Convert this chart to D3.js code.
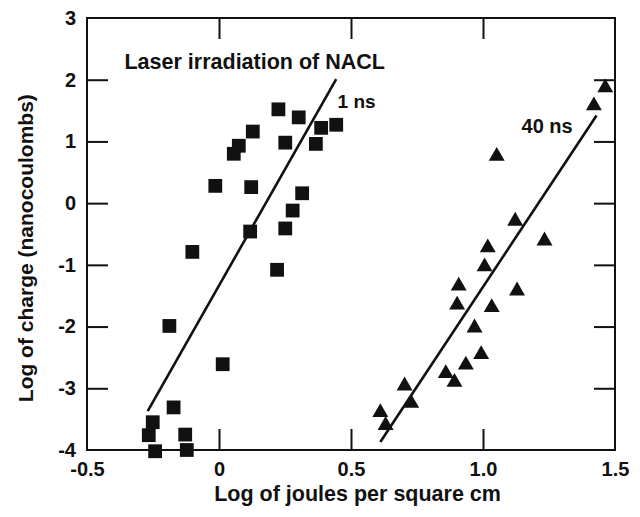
<!DOCTYPE html>
<html>
<head>
<meta charset="utf-8">
<script src="https://cdn.jsdelivr.net/npm/d3@7"></script>
<style>
	body { margin: 0; background: #fff; }
	svg text { font-family: "Liberation Sans", Arial, sans-serif; font-weight: bold; fill: #111; }
</style>
</head>
<body>
<div id="chart"></div>
<script>
let WIDTH = 640;
let HEIGHT = 517;

// tick values and labels
let xTicks = [-0.5, 0, 0.5, 1.0, 1.5];
let xTickLabels = ['-0.5', '0', '0.5', '1.0', '1.5'];
let yTicks = [-4, -3, -2, -1, 0, 1, 2, 3];
let yTickLabels = ['-4', '-3', '-2', '-1', '0', '1', '2', '3'];

// 1 ns series (squares): log joules/cm2, log charge
let ns1X = [0.225, 0.302, 0.128, 0.075, 0.056, 0.251, 0.387, 0.444, 0.367, -0.014, 0.122, 0.315, 0.279, 0.251, 0.118, -0.101, 0.220, -0.188, 0.014, -0.172, -0.251, -0.266, -0.128, -0.242, -0.122];
let ns1Y = [1.52, 1.39, 1.16, 0.93, 0.80, 0.98, 1.22, 1.27, 0.96, 0.28, 0.26, 0.16, -0.12, -0.41, -0.46, -0.79, -1.08, -1.99, -2.61, -3.31, -3.55, -3.76, -3.75, -4.02, -4.00];

// 40 ns series (triangles)
let ns40X = [1.463, 1.420, 1.052, 1.122, 1.233, 1.018, 1.006, 0.908, 1.129, 0.902, 1.033, 0.968, 0.993, 0.935, 0.859, 0.892, 0.703, 0.728, 0.611, 0.631];
let ns40Y = [1.87, 1.58, 0.76, -0.29, -0.61, -0.72, -1.03, -1.34, -1.42, -1.65, -1.69, -2.02, -2.45, -2.62, -2.76, -2.90, -2.96, -3.24, -3.39, -3.60];

// fitted lines, end points
let fit1X = [-0.27, 0.444];
let fit1Y = [-3.37, 2.01];
let fit40X = [0.611, 1.43];
let fit40Y = [-3.87, 1.42];

let svg = d3.select('#chart').append('svg')
	.attr('width', WIDTH)
	.attr('height', HEIGHT);

let x = d3.scaleLinear().domain([-0.5, 1.5]).range([87, 615]);
let y = d3.scaleLinear().domain([-4, 3]).range([450, 18]);

// frame
svg.append('rect')
	.attr('x', x(-0.5))
	.attr('y', y(3))
	.attr('width', x(1.5) - x(-0.5))
	.attr('height', y(-4) - y(3))
	.attr('fill', 'none')
	.attr('stroke', '#111')
	.attr('stroke-width', 2);

// inward ticks on all four sides
let innerX = xTicks.slice(1, -1);
let innerY = yTicks.slice(1, -1);
let tickAxes = [
	[d3.axisBottom(x).tickValues(innerX), 0, y(-4)],
	[d3.axisTop(x).tickValues(innerX), 0, y(3)],
	[d3.axisLeft(y).tickValues(innerY), x(-0.5), 0],
	[d3.axisRight(y).tickValues(innerY), x(1.5), 0]
];
tickAxes.forEach(([axis, tx, ty]) => {
	let g = svg.append('g')
		.attr('transform', `translate(${tx},${ty})`)
		.call(axis.tickSize(-21).tickFormat(''));
	g.select('.domain').remove();
	g.selectAll('line').attr('stroke', '#111').attr('stroke-width', 2);
});

// tick labels
let xLab = svg.append('g')
	.attr('transform', `translate(0,${y(-4)})`)
	.call(d3.axisBottom(x).tickValues(xTicks).tickSize(0).tickPadding(12)
		.tickFormat((d, i) => xTickLabels[i]));
let yLab = svg.append('g')
	.attr('transform', `translate(${x(-0.5)},0)`)
	.call(d3.axisLeft(y).tickValues(yTicks).tickSize(0).tickPadding(11)
		.tickFormat((d, i) => yTickLabels[i]));
[xLab, yLab].forEach((g) => {
	g.select('.domain').remove();
	g.selectAll('text').attr('font-size', 20).attr('fill', '#111');
});

// fitted lines
let line = d3.line().x((d) => x(d[0])).y((d) => y(d[1]));
[[fit1X, fit1Y], [fit40X, fit40Y]].forEach(([fx, fy]) => {
	svg.append('path')
		.attr('d', line(d3.zip(fx, fy)))
		.attr('fill', 'none')
		.attr('stroke', '#111')
		.attr('stroke-width', 2.6);
});

// squares
svg.append('g').selectAll('path')
	.data(d3.zip(ns1X, ns1Y))
	.enter().append('path')
	.attr('d', d3.symbol(d3.symbolSquare, 190))
	.attr('transform', (d) => `translate(${x(d[0])},${y(d[1])})`)
	.attr('fill', '#111');

// triangles
svg.append('g').selectAll('path')
	.data(d3.zip(ns40X, ns40Y))
	.enter().append('path')
	.attr('d', d3.symbol(d3.symbolTriangle, 110))
	.attr('transform', (d) => `translate(${x(d[0])},${y(d[1])})`)
	.attr('fill', '#111');

// annotations
svg.append('text')
	.attr('x', x(-0.358))
	.attr('y', y(2.17))
	.attr('font-size', 21.5)
	.text('Laser irradiation of NACL');
svg.append('text')
	.attr('x', x(0.449))
	.attr('y', y(1.54))
	.attr('font-size', 19)
	.text('1 ns');
svg.append('text')
	.attr('x', x(1.146))
	.attr('y', y(1.14))
	.attr('font-size', 20)
	.text('40 ns');

// axis titles
svg.append('text')
	.attr('x', x(0.525))
	.attr('y', 501)
	.attr('text-anchor', 'middle')
	.attr('font-size', 21.5)
	.text('Log of joules per square cm');
svg.append('text')
	.attr('transform', `translate(33,${y(-0.73)}) rotate(-90)`)
	.attr('text-anchor', 'middle')
	.attr('font-size', 21)
	.text('Log of charge (nanocoulombs)');
</script>
</body>
</html>
